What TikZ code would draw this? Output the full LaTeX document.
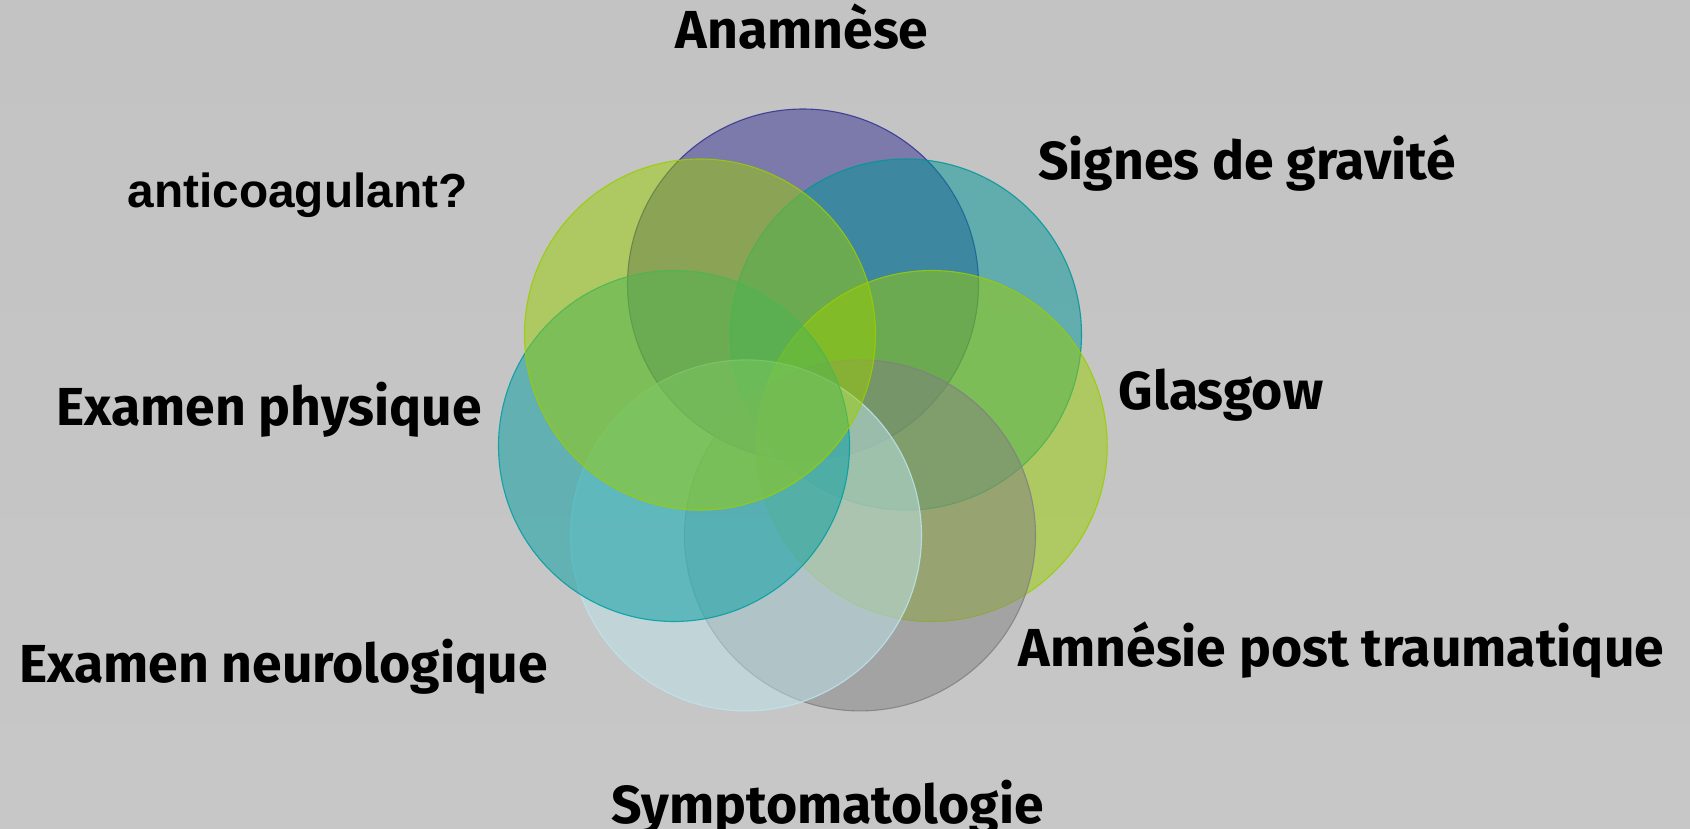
\documentclass[tikz,border=0pt]{standalone}
\usepackage{fontspec}
\setmainfont{Fira Sans}
\newfontfamily\arialfont{Liberation Sans}
\definecolor{cA}{RGB}{51,49,145}
\definecolor{cB}{RGB}{0,150,152}
\definecolor{cC}{RGB}{153,205,1}
\definecolor{cD}{RGB}{129,129,129}
\definecolor{cE}{RGB}{189,229,237}
\definecolor{cF}{RGB}{0,157,161}
\definecolor{cG}{RGB}{153,205,1}
\definecolor{bgtop}{RGB}{195,195,195}
\definecolor{bgbot}{RGB}{199,199,199}
\tikzset{
  venn/.style={circle, inner sep=0pt, minimum size=351pt, fill=#1, draw=#1,
    fill opacity=0.5, draw opacity=0.85, line width=1.1pt},
  lbl/.style={anchor=base, inner sep=0pt, text=black,
    font=\fontsize{53.5}{60}\selectfont\bfseries},
  albl/.style={anchor=base, inner sep=0pt, text=black,
    font=\fontsize{47.8}{54}\selectfont\arialfont\bfseries}
}
\begin{document}
\begin{tikzpicture}[x=1pt,y=-1pt]
\useasboundingbox (0,0) rectangle (1690,828);
\shade[top color=bgtop, bottom color=bgbot] (0,0) rectangle (1690,828);
% circles (drawing order as in the reference)
\node[venn=cA] (c1) at (803,284.5) {};
\node[venn=cB] (c2) at (906,334.5) {};
\node[venn=cC] (c3) at (931.7,446) {};
\node[venn=cD] (c4) at (860,535.4) {};
\node[venn=cE] (c5) at (746,535.4) {};
\node[venn=cF] (c6) at (674,446) {};
\node[venn=cG] (c7) at (700,334.5) {};
% labels
\node[lbl] (l1) at (802,48) {Anamnèse};
\node[lbl] (l2) at (1247,179) {Signes de gravité};
\node[lbl] (l3) at (1221,409) {Glasgow};
\node[lbl] (l4) at (1341.5,666) {Amnésie post traumatique};
\node[lbl] (l5) at (827.5,823) {Symptomatologie};
\node[lbl] (l6) at (283.5,682) {Examen neurologique};
\node[lbl] (l7) at (269,425) {Examen physique};
\node[albl] (l8) at (297.5,207) {anticoagulant?};
\end{tikzpicture}
\end{document}
